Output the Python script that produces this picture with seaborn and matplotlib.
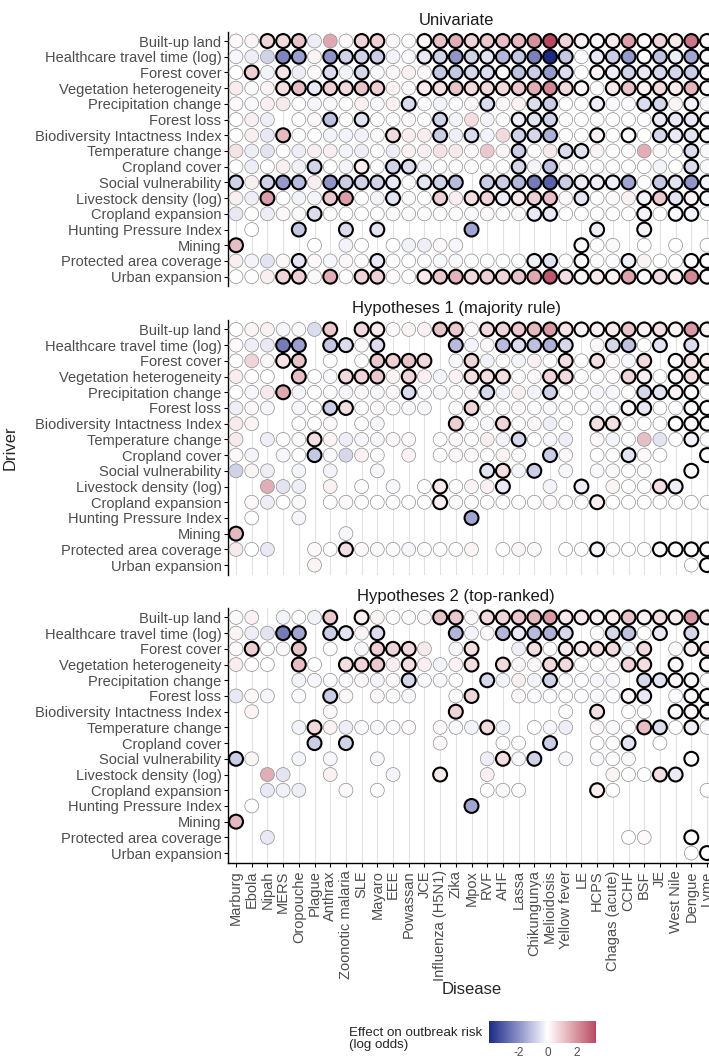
import numpy as np
import pandas as pd
import matplotlib
matplotlib.use("Agg")
import matplotlib.pyplot as plt
from matplotlib.colors import LinearSegmentedColormap, Normalize
from matplotlib.cm import ScalarMappable
import seaborn as sns

# ---------------------------------------------------------------- categories
DRIVERS = [
    "Built-up land", "Healthcare travel time (log)", "Forest cover",
    "Vegetation heterogeneity", "Precipitation change", "Forest loss",
    "Biodiversity Intactness Index", "Temperature change", "Cropland cover",
    "Social vulnerability", "Livestock density (log)", "Cropland expansion",
    "Hunting Pressure Index", "Mining", "Protected area coverage",
    "Urban expansion",
]
DISEASES = [
    "Marburg", "Ebola", "Nipah", "MERS", "Oropouche", "Plague", "Anthrax",
    "Zoonotic malaria", "SLE", "Mayaro", "EEE", "Powassan", "JCE",
    "Influenza (H5N1)", "Zika", "Mpox", "RVF", "AHF", "Lassa", "Chikungunya",
    "Melioidosis", "Yellow fever", "LE", "HCPS", "Chagas (acute)", "CCHF",
    "BSF", "JE", "West Nile", "Dengue", "Lyme",
]
PANELS = ["Univariate", "Hypotheses 1 (majority rule)", "Hypotheses 2 (top-ranked)"]

N = None  # driver not included for that disease

# ------------------------------------------------------- univariate models
UNI_EFFECT = [
    [0.15, 0.2, 0.8, 0.7, 1.1, -0.3, 1.6, 0.1, 0.8, 0.9, 0.1, 0.0, 0.2, 1.1, 1.5, 0.8, 1.0, 1.2, 1.3, 2.0, 3.3, 0.8, 0.25, 0.15, 0.4, 1.8, 0.05, 0.8, 0.4, 2.5, 0.1],
    [-0.15, -0.3, -0.8, -2.2, -1.7, 0.2, -1.9, -0.8, -0.8, -0.9, -0.2, -0.1, -0.4, -0.8, -1.9, -0.8, -0.5, -1.3, -1.0, -2.3, -4.0, -1.0, -0.05, -0.4, -0.9, -1.8, 0.0, -1.1, -0.3, -1.6, -0.1],
    [0.0, 0.9, -0.2, 0.5, -0.3, 0.1, -0.6, -0.2, -0.7, -0.1, 0.15, 0.25, 0.1, -1.0, -1.0, -0.7, -0.6, -0.1, -1.1, -0.9, -1.8, -0.6, 0.0, 0.2, -0.3, -0.8, -0.4, -0.7, -0.7, -0.9, 0.05],
    [0.35, -0.1, 0.2, 0.6, 1.2, -0.4, 0.9, 0.7, 1.1, 0.9, 0.2, 0.1, 0.35, 0.6, 1.1, 0.7, 0.7, 0.7, 1.0, 1.5, 2.2, 0.7, 0.15, 0.0, 0.4, 1.1, 0.25, 0.7, 0.35, 1.4, 0.1],
    [0.1, -0.1, 0.3, 0.4, 0.0, -0.15, -0.1, 0.0, 0.25, -0.1, 0.25, -0.6, -0.05, -0.2, -0.05, 0.1, -0.6, 0.1, 0.2, -0.6, -0.9, 0.0, 0.0, -0.3, -0.1, -0.05, -0.6, -0.7, 0.2, -0.2, -0.1],
    [0.0, 0.3, -0.3, N, 0.0, 0.15, -1.1, 0.0, -0.5, 0.0, 0.0, 0.1, 0.0, -0.8, -0.2, 0.6, -0.2, 0.0, -0.3, -0.5, -0.8, 0.0, 0.0, 0.0, -0.05, 0.0, -0.05, -0.4, -0.4, -0.4, -0.1],
    [0.0, 0.3, -0.4, 1.3, 0.0, 0.05, -0.2, -0.2, -0.25, 0.0, 0.7, 0.3, 0.35, -0.9, -0.3, -0.6, -0.2, 0.7, -0.8, -0.7, -1.4, 0.0, 0.0, 0.25, 0.0, -0.05, 0.0, -0.7, -0.4, -0.5, -0.1],
    [0.5, -0.3, -0.5, 0.05, -0.3, 0.3, 0.3, -0.2, -0.3, 0.0, -0.3, 0.25, 0.3, 0.5, 0.4, 0.1, 1.0, 0.2, -0.9, 0.05, 0.4, -0.6, -0.5, 0.2, 0.0, 0.05, 1.5, -0.1, 0.0, -0.6, -0.1],
    [0.0, -0.3, 0.0, 0.3, -0.25, -0.8, 0.0, -0.2, 0.3, 0.0, -0.8, -0.6, -0.2, 0.0, -0.05, -0.05, 0.0, 0.0, -0.7, -0.2, -1.1, 0.1, 0.0, -0.05, 0.0, 0.0, 0.0, -0.2, 0.0, -0.6, -0.1],
    [-0.8, 0.3, -0.8, -1.8, -1.2, 0.3, -1.9, -0.9, -0.8, -0.8, -0.4, -0.05, -0.5, -0.8, -1.2, N, -0.9, -0.9, -1.3, -2.4, -2.9, -0.9, -0.3, -0.3, -0.3, -1.6, -0.05, -1.0, -0.5, -1.9, -0.2],
    [0.3, -0.3, 1.8, 0.0, -0.2, -0.2, 1.0, 1.8, 0.0, -0.2, -0.5, -0.1, 0.0, 0.9, 0.3, 0.6, 0.8, -0.3, 0.4, 0.9, 1.2, 0.15, -0.5, 0.05, 0.1, 0.25, -0.2, 1.0, -0.5, 0.25, -0.1],
    [-0.4, 0.0, -0.3, 0.15, -0.1, -0.6, -0.05, 0.0, 0.0, 0.0, -0.05, -0.05, -0.05, 0.05, -0.05, -0.1, 0.1, -0.05, -0.1, -0.4, -0.4, 0.0, 0.0, 0.0, 0.0, 0.0, -0.2, 0.0, -0.1, -0.2, 0.0],
    [N, 0.0, N, N, -1.0, N, N, -0.6, N, -0.5, N, N, N, N, N, -1.6, N, N, N, N, N, N, N, -0.3, N, N, -0.2, N, N, N, N],
    [1.2, N, N, N, N, 0.0, N, -0.2, 0.0, N, 0.0, -0.25, -0.3, 0.1, -0.15, N, N, N, N, N, N, N, 0.15, 0.0, -0.1, N, 0.0, N, 0.0, N, 0.0],
    [0.3, -0.2, -0.5, 0.15, -0.5, 0.15, -0.15, 0.15, 0.0, -0.4, 0.05, 0.0, -0.05, -0.1, -0.1, 0.0, 0.0, 0.0, -0.05, -0.3, -0.5, 0.0, 0.1, -0.05, -0.05, -0.3, 0.2, 0.0, 0.0, 0.05, 0.0],
    [0.05, 0.05, 0.3, 0.8, 0.9, -0.1, 1.5, 0.05, 0.8, 0.9, 0.1, 0.05, 0.4, 1.0, 1.4, 0.7, 0.9, 0.8, 1.1, 1.6, 3.0, 0.6, 0.2, 0.4, 0.25, 1.7, 0.1, 0.7, 0.3, 2.2, 0.05],
]
# 1 = significant effect, written in groups of five diseases
UNI_SIG = [
    "00111 00011 00111 11111 11111 11111 1",
    "00011 01111 00111 11111 11011 11111 1",
    "01010 01010 00011 11111 11011 11111 1",
    "00011 11111 00111 11111 11101 11111 1",
    "00000 00000 01000 01001 10010 01101 0",
    "00000 01010 00010 00011 10000 00111 1",
    "00010 00000 10010 10011 10010 10111 1",
    "00000 00000 00000 00010 01100 00001 0",
    "00000 10010 11000 00010 10000 00001 0",
    "10111 01111 10111 01111 11111 10111 1",
    "00100 01100 10010 11111 10100 01111 1",
    "00000 10000 00000 00001 10000 01011 0",
    "00001 00101 00000 10000 00010 01000 0",
    "10000 00000 00000 00000 00100 00000 0",
    "00001 00001 00000 00001 10100 10001 1",
    "00011 01011 00111 11111 11111 11111 1",
]

# ------------------------------------------- hypotheses 1 (majority rule)
H1_EFFECT = [
    [0.0, 0.2, 0.25, -0.15, -0.1, -0.6, 1.0, N, 0.7, 0.4, 0.1, 0.2, 0.25, 1.1, 1.0, 0.1, 0.7, 0.8, 1.0, 1.3, 1.9, 0.5, 0.2, 0.25, 0.4, 1.1, 0.25, 0.6, 0.2, 1.9, 0.2],
    [0.1, -0.3, -0.4, -2.4, -1.7, N, -1.0, -0.6, 0.15, -0.6, N, N, N, N, -1.2, -0.2, 0.15, -1.2, -0.6, -1.1, -1.4, -0.7, N, 0.1, -0.7, -1.1, 0.05, -0.5, N, -0.6, N],
    [0.0, 0.8, 0.15, 0.5, 1.1, N, 0.0, N, 0.0, 1.0, 0.9, 1.1, 0.7, N, -0.1, 0.8, -0.25, 0.0, -0.2, 0.3, 0.05, 0.6, 0.0, 0.6, 0.1, -0.15, 0.7, N, 0.05, 0.5, 0.3],
    [0.35, 0.0, 0.0, N, 1.2, 0.0, -0.1, 0.7, 0.8, 1.0, 0.2, 0.8, 0.3, -0.2, 0.2, 0.6, 0.6, 0.6, 0.05, 0.1, 0.8, 0.7, 0.0, 0.0, 0.05, 0.8, 0.3, 0.0, 0.1, 0.6, 0.1],
    [0.0, -0.15, 0.4, 1.6, -0.15, 0.0, 0.0, -0.15, 0.15, -0.15, 0.15, -0.6, -0.05, -0.15, 0.0, 0.15, -0.7, -0.2, 0.25, -0.2, -0.8, 0.0, 0.0, -0.15, -0.15, 0.0, -0.7, -0.5, 0.2, -0.05, 0.0],
    [-0.3, 0.15, -0.15, N, -0.15, 0.0, -0.9, 0.6, 0.0, 0.1, 0.0, -0.1, -0.15, N, 0.0, 0.8, 0.0, 0.0, 0.1, -0.05, -0.1, 0.0, 0.0, -0.1, -0.05, 0.15, -0.4, 0.0, -0.05, -0.05, 0.0],
    [0.4, 0.2, N, N, 0.0, 0.0, 0.1, N, 0.0, -0.15, N, N, N, N, 0.9, 0.0, -0.1, 0.8, 0.0, 0.15, -0.3, 0.0, N, 0.6, 0.6, 0.0, 0.05, 0.0, 0.0, 0.15, 0.0],
    [0.4, N, -0.3, 0.0, -0.1, 0.6, 0.2, -0.3, -0.15, -0.15, 0.15, 0.1, N, 0.0, 0.15, -0.05, 0.3, -0.2, -0.7, 0.0, -0.15, -0.3, N, 0.15, -0.2, 0.0, 1.2, -0.5, 0.0, -0.2, 0.0],
    [0.15, -0.2, N, -0.15, 0.0, -1.0, -0.1, -0.7, 0.25, 0.0, N, 0.2, N, 0.0, 0.15, 0.15, 0.0, 0.2, 0.0, N, -0.9, 0.15, N, 0.0, 0.0, -0.5, 0.1, 0.0, N, N, 0.0],
    [-0.8, 0.2, -0.3, N, -0.2, N, -0.2, N, N, -0.15, N, N, N, N, N, N, -0.5, 0.6, -0.2, -0.9, N, -0.15, N, -0.1, -0.1, -0.05, -0.05, N, N, -0.1, N],
    [N, N, 1.5, -0.5, -0.3, N, 0.25, N, 0.0, N, -0.15, N, 0.0, 0.4, 0.0, 0.2, 0.25, -0.4, N, N, -0.2, N, -0.3, N, 0.2, 0.0, 0.05, 0.6, -0.3, N, N],
    [N, 0.15, -0.3, 0.0, -0.1, N, 0.0, 0.1, 0.0, 0.0, 0.0, 0.0, 0.0, 0.3, -0.1, 0.0, 0.0, 0.0, 0.0, 0.0, 0.1, 0.0, 0.05, 0.3, 0.0, 0.0, 0.0, 0.0, 0.0, 0.0, 0.0],
    [N, 0.0, N, N, -0.15, N, N, N, N, N, N, N, N, N, N, -1.6, N, N, N, N, N, N, N, N, N, N, N, N, N, N, N],
    [1.3, N, N, N, N, N, N, -0.15, N, N, N, N, N, N, N, N, N, N, N, N, N, N, N, N, N, N, N, N, N, N, N],
    [0.4, 0.0, -0.4, N, N, 0.1, 0.05, 0.6, 0.1, -0.1, -0.05, -0.15, -0.05, 0.0, 0.0, 0.2, N, 0.0, 0.2, -0.1, N, 0.0, 0.05, -0.2, -0.05, 0.0, 0.05, 0.15, 0.0, 0.0, 0.0],
    [N, N, N, N, N, 0.2, N, N, N, N, N, N, N, N, N, N, N, N, N, N, N, N, N, N, N, N, N, N, N, 0.0, 0.0],
]
H1_SIG = [
    "00000 01011 00011 01111 11111 11111 1",
    "00011 01101 00001 00111 11001 10101 0",
    "00011 00001 11100 10000 01010 01011 1",
    "00001 00111 01000 11100 11000 11011 1",
    "00010 00000 01000 01000 10000 01111 0",
    "00000 01100 00000 10000 00000 11001 1",
    "00000 00000 00001 00100 00011 00011 1",
    "00000 10000 00000 00010 00000 00001 0",
    "00000 10000 00000 00000 10000 10000 1",
    "00000 00000 00000 01101 00000 00001 0",
    "00000 00000 00010 00100 00100 00110 0",
    "00000 00000 00010 00000 00010 00000 0",
    "00000 00000 00000 10000 00000 00000 0",
    "10000 00000 00000 00000 00000 00000 0",
    "00000 00100 00000 00000 00010 00111 1",
    "00000 00000 00000 00000 00000 00000 1",
]

# --------------------------------------------- hypotheses 2 (top-ranked)
H2_EFFECT = [
    [-0.1, 0.25, N, -0.2, 0.0, -0.25, 1.0, N, 0.3, 0.2, 0.05, 0.05, 0.15, 1.1, 1.0, 0.1, 0.7, 0.8, 1.0, 1.3, 1.9, 0.4, 0.4, 0.25, 0.35, 1.1, 0.25, 0.6, 0.3, 1.9, 0.2],
    [0.2, -0.3, -0.5, -2.4, -1.6, N, -0.9, -0.5, 0.2, -0.6, N, N, N, N, -1.3, -0.2, 0.1, -1.3, -0.4, -1.2, -1.4, -0.7, N, 0.05, -0.7, -1.1, 0.05, -0.4, N, -0.7, N],
    [0.1, 0.9, 0.0, 0.15, 1.1, N, 0.05, N, -0.15, 0.9, 0.8, 0.7, 0.4, N, -0.15, 0.6, N, N, -0.3, 0.6, 0.05, 0.4, 0.4, 0.6, 0.7, -0.2, 0.7, N, -0.1, 0.3, 0.4],
    [0.35, 0.0, 0.0, N, 1.2, 0.0, N, 0.6, 0.8, 1.0, 0.3, 0.6, 0.3, -0.2, 0.2, 0.6, N, 0.7, 0.15, 0.15, 0.7, 0.7, 0.0, 0.0, 0.05, 0.8, 0.6, N, 0.1, N, 0.1],
    [N, N, N, N, -0.2, -0.15, -0.05, -0.05, 0.15, -0.2, 0.1, -0.7, -0.1, -0.15, 0.0, N, -0.7, -0.2, 0.3, -0.2, -0.8, -0.05, -0.05, -0.15, -0.15, N, -0.7, -0.5, 0.15, -0.1, 0.0],
    [-0.4, 0.1, -0.15, N, -0.1, N, -0.9, 0.15, N, 0.1, 0.0, -0.15, N, N, 0.0, 0.8, N, N, 0.15, -0.05, -0.05, 0.0, -0.05, -0.1, -0.05, 0.15, -0.4, N, -0.05, -0.05, 0.0],
    [N, 0.2, N, N, N, N, 0.1, N, N, N, N, N, N, N, 0.8, N, N, N, N, N, N, 0.0, N, 0.6, N, 0.0, 0.05, N, -0.05, 0.15, 0.0],
    [N, N, N, N, -0.2, 0.7, 0.25, -0.3, -0.1, -0.1, -0.05, 0.05, N, 0.1, -0.1, -0.2, 0.7, -0.2, N, 0.0, -0.15, -0.3, N, 0.15, -0.1, 0.05, 1.2, -0.6, 0.0, -0.3, -0.05],
    [N, N, N, N, N, -0.9, N, -0.8, N, N, N, N, N, 0.15, N, N, N, 0.0, 0.0, N, -0.9, N, N, 0.0, 0.05, -0.5, N, 0.0, N, N, N],
    [-0.9, 0.2, N, N, -0.2, N, -0.15, N, N, -0.15, N, N, N, N, N, N, -0.3, 0.6, -0.15, -0.8, N, -0.15, N, -0.1, -0.05, -0.1, N, N, N, -0.05, N],
    [N, N, 1.5, -0.5, N, N, 0.25, N, N, N, -0.2, N, N, 0.4, N, N, 0.3, N, N, N, N, N, N, N, 0.2, 0.0, 0.0, 0.6, -0.35, N, N],
    [N, N, -0.4, -0.25, -0.3, N, N, 0.1, N, 0.0, N, N, N, N, N, N, 0.0, -0.1, 0.0, N, N, N, N, 0.3, 0.05, N, N, N, N, N, 0.0],
    [N, 0.0, N, N, N, N, N, N, N, N, N, N, N, N, N, -1.6, N, N, N, N, N, N, N, N, N, N, N, N, N, N, N],
    [1.3, N, N, N, N, N, N, N, N, N, N, N, N, N, N, N, N, N, N, N, N, N, N, N, N, N, N, N, N, N, N],
    [N, N, -0.4, N, N, N, N, N, N, N, N, N, N, N, N, N, N, N, N, N, N, N, N, N, N, 0.0, 0.1, N, N, 0.0, N],
    [N, N, N, N, N, N, N, N, N, N, N, N, N, N, N, N, N, N, N, N, N, N, N, N, N, N, N, N, N, 0.0, 0.0],
]
H2_SIG = [
    "00000 01010 00011 01111 11111 11111 1",
    "00011 01101 00001 00111 11001 10101 0",
    "01001 00001 11000 10001 01111 01001 1",
    "00001 00111 01000 10100 11000 11010 1",
    "00000 00000 01000 01000 10000 01111 0",
    "00000 01000 00000 10000 00000 11001 1",
    "00000 00000 00001 00000 00010 00011 1",
    "00000 10000 00000 01000 00000 01101 0",
    "00000 10100 00000 00000 10000 10000 0",
    "10000 00000 00000 00101 00000 00001 0",
    "00000 00000 00010 00000 00000 00110 0",
    "00000 00000 00000 00000 00010 00000 0",
    "00000 00000 00000 10000 00000 00000 0",
    "10000 00000 00000 00000 00000 00000 0",
    "00000 00000 00000 00000 00000 00001 0",
    "00000 00000 00000 00000 00000 00000 1",
]


def long_form(effects, flags, panel):
    rows = []
    for i, (vals, sig) in enumerate(zip(effects, flags)):
        sig = sig.replace(" ", "")
        for j, v in enumerate(vals):
            if v is None:
                continue
            rows.append({"panel": panel, "driver": DRIVERS[i],
                         "disease": DISEASES[j], "effect": v,
                         "significant": sig[j] == "1"})
    return pd.DataFrame(rows)


df = pd.concat([
    long_form(UNI_EFFECT, UNI_SIG, PANELS[0]),
    long_form(H1_EFFECT, H1_SIG, PANELS[1]),
    long_form(H2_EFFECT, H2_SIG, PANELS[2]),
], ignore_index=True)
df["xi"] = pd.Categorical(df["disease"], categories=DISEASES).codes
df["yi"] = pd.Categorical(df["driver"], categories=DRIVERS).codes

# ------------------------------------------------------------------ styling
sns.set_style("ticks")
plt.rcParams["font.family"] = ["Liberation Sans", "DejaVu Sans"]
plt.rcParams["axes.unicode_minus"] = False

LABEL_GREY = "#4d4d4d"
cmap = LinearSegmentedColormap.from_list(
    "effect", ["#1B2A85", "#8A8FC6", "#FFFFFF", "#D8939F", "#A8213F"])
lim = float(np.abs(df["effect"]).max())
norm = Normalize(vmin=-lim, vmax=lim)

W, H = 709, 1059
fig = plt.figure(figsize=(W / 100, H / 100), dpi=100)

left_px, unit_px = 227.7, 15.7
x_lo, x_hi = -0.53, 30.55
panel_tops = [31.6, 320.0, 608.0]
panel_h = 254.5

for k, (name, top) in enumerate(zip(PANELS, panel_tops)):
    ax = fig.add_axes([left_px / W, 1 - (top + panel_h) / H,
                       (x_hi - x_lo) * unit_px / W, panel_h / H])
    sub = df[df["panel"] == name]
    sns.scatterplot(data=sub[~sub["significant"]], x="xi", y="yi",
                    hue="effect", palette=cmap, hue_norm=norm, s=100,
                    edgecolor="#8f8f8f", linewidth=0.5, legend=False,
                    ax=ax, zorder=3)
    sns.scatterplot(data=sub[sub["significant"]], x="xi", y="yi",
                    hue="effect", palette=cmap, hue_norm=norm, s=100,
                    edgecolor="black", linewidth=1.5, legend=False,
                    ax=ax, zorder=4)
    ax.set_xlim(x_lo, x_hi)
    ax.set_ylim(len(DRIVERS) - 0.4, -0.6)
    ax.set_xticks(range(len(DISEASES)))
    ax.set_yticks(range(len(DRIVERS)))
    ax.set_yticklabels(DRIVERS)
    ax.set_xlabel("")
    ax.set_ylabel("")
    ax.set_axisbelow(True)
    ax.grid(axis="x", color="#e1e1e1", linewidth=0.8)
    ax.grid(axis="y", visible=False)
    for side in ("top", "right"):
        ax.spines[side].set_visible(False)
    ax.spines["left"].set_linewidth(1.0)
    ax.spines["left"].set_color("black")
    ax.tick_params(axis="y", length=3, width=0.8, color="black",
                   labelsize=10.5, labelcolor=LABEL_GREY, pad=1.5)
    if k < 2:
        ax.spines["bottom"].set_visible(False)
        ax.tick_params(axis="x", bottom=False, labelbottom=False)
    else:
        ax.spines["bottom"].set_linewidth(1.0)
        ax.spines["bottom"].set_color("black")
        ax.set_xticklabels(DISEASES, rotation=90)
        ax.tick_params(axis="x", length=3, width=0.8, color="black",
                       labelsize=10.5, labelcolor=LABEL_GREY, pad=2.5)
    fig.text(456 / W, 1 - (top - 7) / H, name, ha="center", va="baseline",
             fontsize=12, color="#1a1a1a")

fig.text(10 / W, 1 - 448 / H, "Driver", rotation=90, ha="center",
         va="center", fontsize=12)
fig.text(472 / W, 1 - 990 / H, "Disease", ha="center", va="center",
         fontsize=12)

# colour bar legend
cax = fig.add_axes([489 / W, 1 - 1043 / H, 107 / W, 22 / H])
lo, hi = df["effect"].min(), df["effect"].max()
cb = fig.colorbar(ScalarMappable(norm=norm, cmap=cmap), cax=cax,
                  orientation="horizontal",
                  boundaries=np.linspace(lo, hi, 256), ticks=[-2, 0, 2])
cb.outline.set_visible(False)
cax.tick_params(axis="x", direction="in", length=4, width=0.8,
                color="white", top=True, labelsize=8.5,
                labelcolor=LABEL_GREY, pad=3)
fig.text(349 / W, 1 - 1039 / H, "Effect on outbreak risk\n(log odds)",
         ha="left", va="center", fontsize=9.6, linespacing=1.1)

fig.savefig("out.png", dpi=100)
